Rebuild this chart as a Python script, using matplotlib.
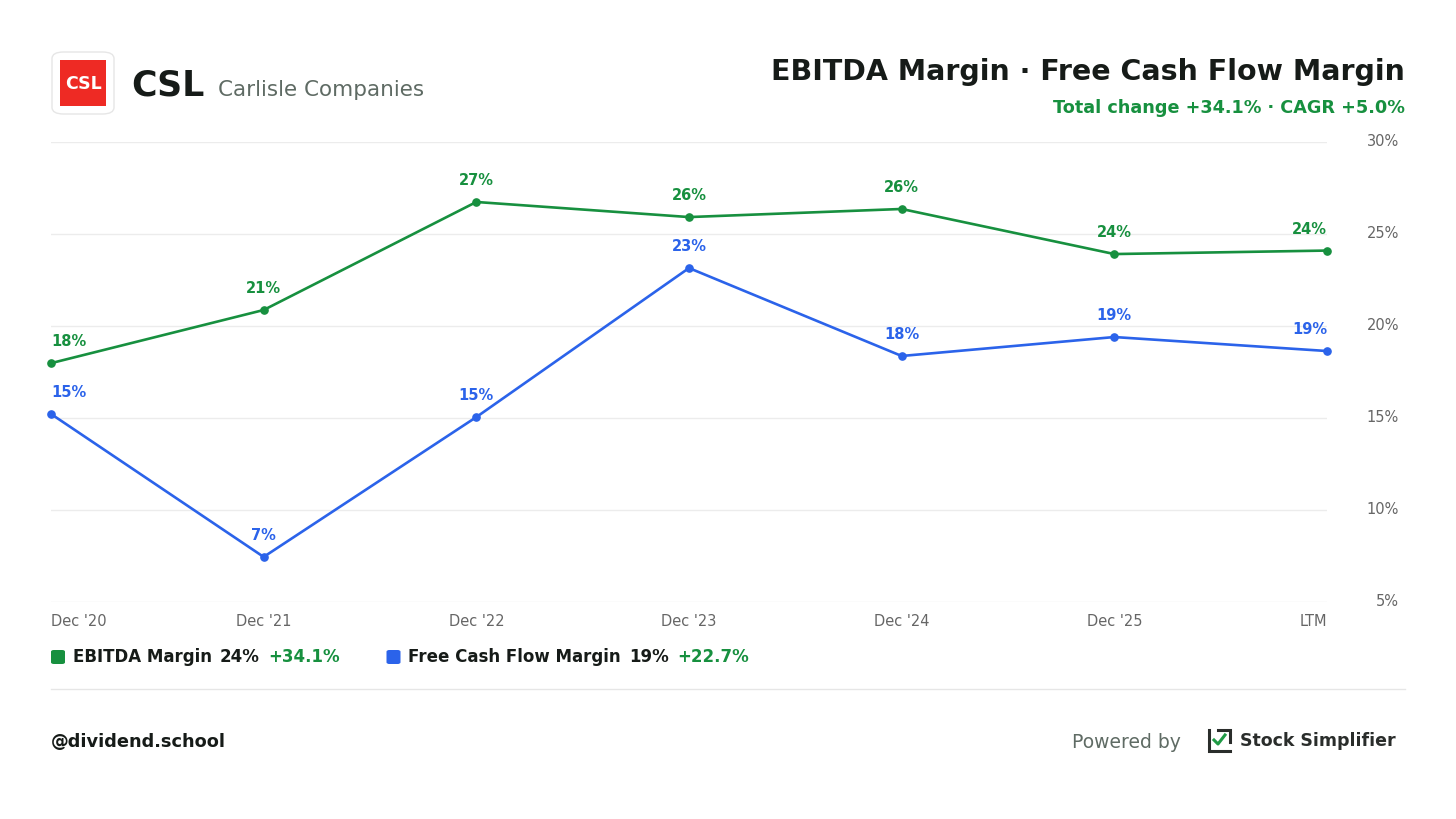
import matplotlib
matplotlib.use("Agg")
import matplotlib.pyplot as plt
from matplotlib.patches import FancyBboxPatch, Rectangle
from matplotlib.lines import Line2D

# ---------------- data ----------------
periods = ["Dec '20", "Dec '21", "Dec '22", "Dec '23", "Dec '24", "Dec '25", "LTM"]
ebitda_margin = [17.98, 20.87, 26.74, 25.92, 26.36, 23.91, 24.1]
fcf_margin = [15.22, 7.45, 15.05, 23.15, 18.37, 19.4, 18.64]
y_ticks = [5, 10, 15, 20, 25, 30]
y_tick_labels = ["5%", "10%", "15%", "20%", "25%", "30%"]

ticker = "CSL"
company = "Carlisle Companies"
title = "EBITDA Margin \u00b7 Free Cash Flow Margin"
subtitle = "Total change +34.1% \u00b7 CAGR +5.0%"
legend_items = [
    ("EBITDA Margin", "24%", "+34.1%"),
    ("Free Cash Flow Margin", "19%", "+22.7%"),
]
handle = "@dividend.school"

GREEN = "#17903f"
BLUE = "#2b63ea"
DARK = "#161b18"
GRAY = "#5f6b64"
TICK = "#666666"
GRID = "#ececec"

FONT = "DejaVu Sans"
plt.rcParams["font.family"] = [FONT]

W, H = 1456, 819
fig = plt.figure(figsize=(W / 100, H / 100), dpi=100)
fig.patch.set_facecolor("white")


def fx(x):
    return x / W


def fy(y):
    return 1 - y / H


# ---------------- axes ----------------
ax_l, ax_r, ax_t, ax_b = 51, 1327, 142, 602
ax = fig.add_axes([fx(ax_l), fy(ax_b), fx(ax_r - ax_l), (ax_b - ax_t) / H])
ax.set_xlim(0, len(periods) - 1)
ax.set_ylim(5, 30)
for s in ax.spines.values():
    s.set_visible(False)
ax.set_yticks(y_ticks)
ax.set_yticklabels([])
ax.tick_params(axis="both", length=0)
ax.set_xticks([])
ax.grid(axis="y", color=GRID, linewidth=1)
ax.set_axisbelow(True)
ax.patch.set_alpha(0)

xs = list(range(len(periods)))
for vals, col in [(ebitda_margin, GREEN), (fcf_margin, BLUE)]:
    ax.plot(xs, vals, color=col, linewidth=1.9, marker="o", markersize=5.2,
            solid_joinstyle="round", clip_on=False, zorder=3)
    for i, v in enumerate(vals):
        ha = "left" if i == 0 else ("right" if i == len(vals) - 1 else "center")
        ax.annotate(f"{round(v)}%", (i, v), xytext=(0, 10), textcoords="offset points",
                    ha=ha, va="bottom", color=col, fontsize=10.5, fontweight="bold")

# y tick labels on the right
for t, lab in zip(y_ticks, y_tick_labels):
    ypix = ax_t + (30 - t) / 25 * (ax_b - ax_t)
    fig.text(fx(1399), fy(ypix), lab, ha="right", va="center", fontsize=10.5, color=TICK)

# x tick labels
for i, lab in enumerate(periods):
    ha = "left" if i == 0 else ("right" if i == len(periods) - 1 else "center")
    xpix = ax_l + i / (len(periods) - 1) * (ax_r - ax_l)
    fig.text(fx(xpix), fy(621), lab, ha=ha, va="center", fontsize=10.5, color=TICK)

# ---------------- header ----------------
logo_box = FancyBboxPatch((fx(52), fy(114)), fx(62), 62 / H,
                          boxstyle="round,pad=0,rounding_size=0.008",
                          transform=fig.transFigure, facecolor="white",
                          edgecolor="#e6e6e6", linewidth=1)
fig.patches.append(logo_box)
fig.patches.append(Rectangle((fx(60), fy(106)), fx(46), 46 / H,
                             transform=fig.transFigure, facecolor="#ee2a24",
                             edgecolor="none"))
fig.text(fx(83), fy(84), ticker, ha="center", va="center", color="white",
         fontsize=12.5, fontweight="bold")

fig.text(fx(131), fy(85), ticker, ha="left", va="center", color=DARK,
         fontsize=25, fontweight="bold")
fig.text(fx(218), fy(90), company, ha="left", va="center", color=GRAY,
         fontsize=15.5)

fig.text(fx(1405), fy(72), title, ha="right", va="center", color=DARK,
         fontsize=20.5, fontweight="bold")
fig.text(fx(1405), fy(108), subtitle, ha="right", va="center", color=GREEN,
         fontsize=12.7, fontweight="bold")

# ---------------- legend ----------------
fig.canvas.draw()
renderer = fig.canvas.get_renderer()
x = 51
legend_y = 657
for (name, val, chg), col in zip(legend_items, [GREEN, BLUE]):
    sq = FancyBboxPatch((fx(x), fy(legend_y + 7)), fx(14), 14 / H,
                        boxstyle="round,pad=0,rounding_size=0.002",
                        transform=fig.transFigure, facecolor=col, edgecolor="none")
    fig.patches.append(sq)
    cx = x + 22
    for txt, c, gap in [(name, DARK, 8), (val, DARK, 8), (chg, GREEN, 0)]:
        t = fig.text(fx(cx), fy(legend_y), txt, ha="left", va="center", color=c,
                     fontsize=12, fontweight="bold")
        bb = t.get_window_extent(renderer)
        cx = bb.x1 + gap
    x = cx + 47

# ---------------- footer ----------------
fig.lines.append(Line2D([fx(51), fx(1405)], [fy(689), fy(689)],
                        transform=fig.transFigure, color="#e6e6e6", linewidth=1))
fig.text(fx(51), fy(742), handle, ha="left", va="center", color=DARK,
         fontsize=12.8, fontweight="bold")
fig.text(fx(1181), fy(742), "Powered by", ha="right", va="center", color=GRAY,
         fontsize=13.5)
# stock simplifier icon
icon_col = "#2a2d2b"
for xsn, ysn in [([1209, 1209, 1230], [730, 751, 751]),
                 ([1218, 1230, 1230], [730, 730, 742])]:
    fig.lines.append(Line2D([fx(v) for v in xsn], [fy(v) for v in ysn],
                            transform=fig.transFigure, color=icon_col,
                            linewidth=2.2, solid_joinstyle="miter"))
fig.lines.append(Line2D([fx(1214), fx(1218), fx(1225)], [fy(740), fy(744), fy(735)],
                        transform=fig.transFigure, color="#1f9a45", linewidth=2.2))
fig.text(fx(1240), fy(741), "Stock Simplifier", ha="left", va="center",
         color=icon_col, fontsize=12.5, fontweight="bold")

fig.savefig("out.png", dpi=100, facecolor="white")
